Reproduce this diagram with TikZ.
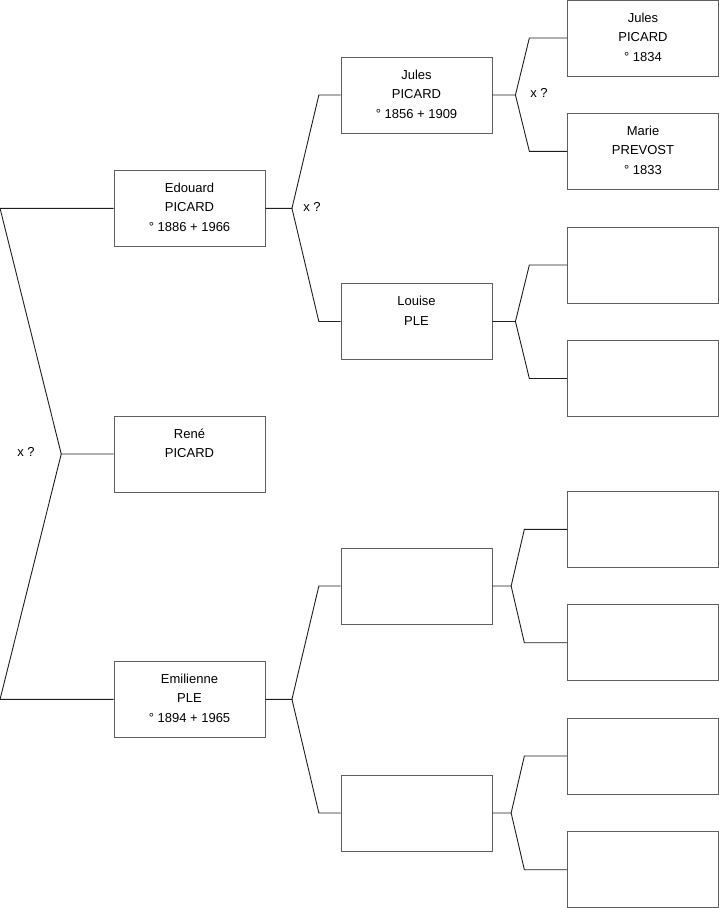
\documentclass[tikz,border=0pt]{standalone}
\usepackage{fontspec}
\setmainfont{Liberation Sans}
\newcommand\ptxt[1]{\parbox[c][76pt][t]{151pt}{\centering\fontsize{13}{19.5}\selectfont\rule{0pt}{22pt}#1}}
\tikzset{
  pbox/.style={draw={rgb,255:red,95;green,95;blue,95}, line width=0.9pt, inner sep=0pt, minimum width=151pt, minimum height=76pt, fill=white},
  link/.style={draw={rgb,255:red,30;green,30;blue,30}, line width=0.9pt},
  xmark/.style={font=\fontsize{13}{15}\selectfont, inner sep=0pt}
}
\begin{document}
\begin{tikzpicture}[x=1pt,y=-1pt]
\useasboundingbox (0,0) rectangle (719,908);
% generation 1
\node[pbox] (ed) at (189.5,208.3) {\ptxt{Edouard\\PICARD\\° 1886 + 1966}};
\node[pbox] (re) at (189.5,454) {\ptxt{René\\PICARD}};
\node[pbox] (em) at (189.5,699.3) {\ptxt{Emilienne\\PLE\\° 1894 + 1965}};
% generation 2
\node[pbox] (ju) at (416.5,95) {\ptxt{Jules\\PICARD\\° 1856 + 1909}};
\node[pbox] (lo) at (416.5,321.5) {\ptxt{Louise\\PLE}};
\node[pbox] (e1) at (416.5,586) {\ptxt{}};
\node[pbox] (e2) at (416.5,813) {\ptxt{}};
% generation 3
\node[pbox] (g1) at (643,38) {\ptxt{Jules\\PICARD\\° 1834}};
\node[pbox] (g2) at (643,151.3) {\ptxt{Marie\\PREVOST\\° 1833}};
\node[pbox] (g3) at (643,265) {\ptxt{}};
\node[pbox] (g4) at (643,378.5) {\ptxt{}};
\node[pbox] (g5) at (643,529.3) {\ptxt{}};
\node[pbox] (g6) at (643,642.7) {\ptxt{}};
\node[pbox] (g7) at (643,756) {\ptxt{}};
\node[pbox] (g8) at (643,869.7) {\ptxt{}};
% root fork
\draw[link] (ed.west) -- ([xshift=-113.5]ed.west) -- ([xshift=-52.3]re.west) coordinate (r0) -- (re.west);
\draw[link] (r0) -- ([xshift=-113.5]em.west) -- (em.west);
\node[xmark] (x0) at (26,452) {x ?};
% fork macro: parent, child1, child2, fork length, knee length
\newcommand\famfork[5]{%
  \draw[link] (#1.east) -- ++(#4,0) coordinate (#1f) -- ([xshift=-#5]#2.west) -- (#2.west);
  \draw[link] (#1f) -- ([xshift=-#5]#3.west) -- (#3.west);}
\famfork{ed}{ju}{lo}{26.5}{21.7}
\famfork{em}{e1}{e2}{26.5}{21.7}
\famfork{ju}{g1}{g2}{23}{37.7}
\famfork{lo}{g3}{g4}{23}{37.7}
\famfork{e1}{g5}{g6}{18.7}{42.7}
\famfork{e2}{g7}{g8}{18.7}{42.7}
\node[xmark] (x1) at (312,207) {x ?};
\node[xmark] (x2) at (539,93) {x ?};
\end{tikzpicture}
\end{document}
